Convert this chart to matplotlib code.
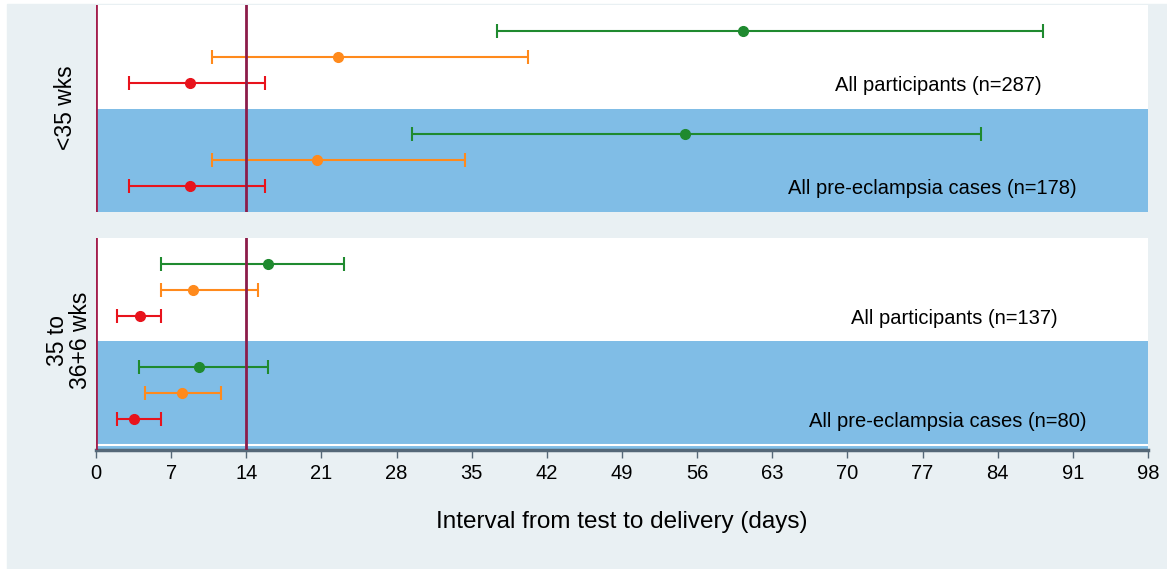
import matplotlib.pyplot as plt
import matplotlib.patches as patches

plt.rcParams['font.family'] = ['Liberation Sans', 'DejaVu Sans']

# median and interval per row, order: green, orange, red
# <35 wks, all participants then pre-eclampsia
top_all_med = [60.3, 22.5, 8.8]
top_all_lo = [37.4, 10.8, 3.1]
top_all_hi = [88.2, 40.2, 15.7]
top_pe_med = [54.9, 20.6, 8.8]
top_pe_lo = [29.4, 10.8, 3.1]
top_pe_hi = [82.4, 34.4, 15.7]

# 35 to 36+6 wks
bot_all_med = [16.0, 9.0, 4.1]
bot_all_lo = [6.1, 6.1, 2.0]
bot_all_hi = [23.1, 15.1, 6.1]
bot_pe_med = [9.6, 8.0, 3.5]
bot_pe_lo = [4.0, 4.6, 2.0]
bot_pe_hi = [16.0, 11.6, 6.1]

group_labels = ["<35 wks", "35 to\n36+6 wks"]
all_labels = ["All participants (n=287)", "All participants (n=137)"]
pe_labels = ["All pre-eclampsia cases (n=178)", "All pre-eclampsia cases (n=80)"]
xticks = list(range(0, 99, 7))

colors = ["#1f8a2f", "#ff8a1c", "#e8131c"]
bg = "#e9f0f3"
blue = "#80bde6"
vline_col = "#8c1c4a"

W, H = 1167, 569
fig = plt.figure(figsize=(W / 100, H / 100), dpi=100, facecolor="white")
fig.patches.append(patches.Rectangle((7 / W, 0), 1 - 7 / W, 1 - 4 / H,
                                     transform=fig.transFigure, color=bg, zorder=-10))

x0, x1 = 96 / W, 1148 / W
ax_top = fig.add_axes([x0, 1 - 212 / H, x1 - x0, (212 - 5) / H])
ax_bot = fig.add_axes([x0, 1 - 450 / H, x1 - x0, (450 - 238) / H])


def draw_panel(ax, rows, lab_all, lab_pe, lab_x, ymin):
    ax.set_xlim(0, 98)
    ax.set_ylim(ymin, 8)
    ax.set_facecolor("white")
    ax.axhspan(ymin, 4, color=blue, lw=0, zorder=0)
    for (med, lo, hi), ys in zip(rows, [[7, 6, 5], [3, 2, 1]]):
        for m, l, h, y, c in zip(med, lo, hi, ys, colors):
            ax.errorbar([m], [y], xerr=[[m - l], [h - m]], fmt="o", color=c,
                        ms=7, elinewidth=1.5, capsize=5, capthick=1.5, zorder=3)
    ax.text(lab_x[0], 4.9, lab_all, ha="center", va="center", fontsize=14.5)
    ax.text(lab_x[1], 0.9, lab_pe, ha="center", va="center", fontsize=14.5)
    ax.axvline(0, color="#a31d4c", lw=2, zorder=4)
    ax.axvline(14, color=vline_col, lw=2, zorder=4)
    ax.set_yticks([])
    for s in ax.spines.values():
        s.set_visible(False)


draw_panel(ax_top, [(top_all_med, top_all_lo, top_all_hi),
                    (top_pe_med, top_pe_lo, top_pe_hi)],
           all_labels[0], pe_labels[0], [78.5, 77.9], 0)
draw_panel(ax_bot, [(bot_all_med, bot_all_lo, bot_all_hi),
                    (bot_pe_med, bot_pe_lo, bot_pe_hi)],
           all_labels[1], pe_labels[1], [80.0, 79.3], -0.2)

ax_top.set_xticks([])
ax_bot.axhline(0, color="white", lw=1.5, zorder=1)
ax_bot.spines["bottom"].set_visible(True)
ax_bot.spines["bottom"].set_color("#556878")
ax_bot.spines["bottom"].set_linewidth(2.5)
ax_bot.set_xticks(xticks)
ax_bot.tick_params(axis="x", direction="out", length=6, width=1, color="#556878",
                   labelsize=14.5, pad=4)

fig.text(65 / W, 1 - 108 / H, group_labels[0], rotation=90, ha="center", va="center",
         fontsize=16.5)
fig.text(69 / W, 1 - 340 / H, group_labels[1], rotation=90, ha="center", va="center",
         fontsize=16.5, linespacing=1.0)
fig.text((x0 + x1) / 2, 1 - 522 / H, "Interval from test to delivery (days)",
         ha="center", va="center", fontsize=17.5)

fig.savefig("out.png", dpi=100, facecolor=fig.get_facecolor())
